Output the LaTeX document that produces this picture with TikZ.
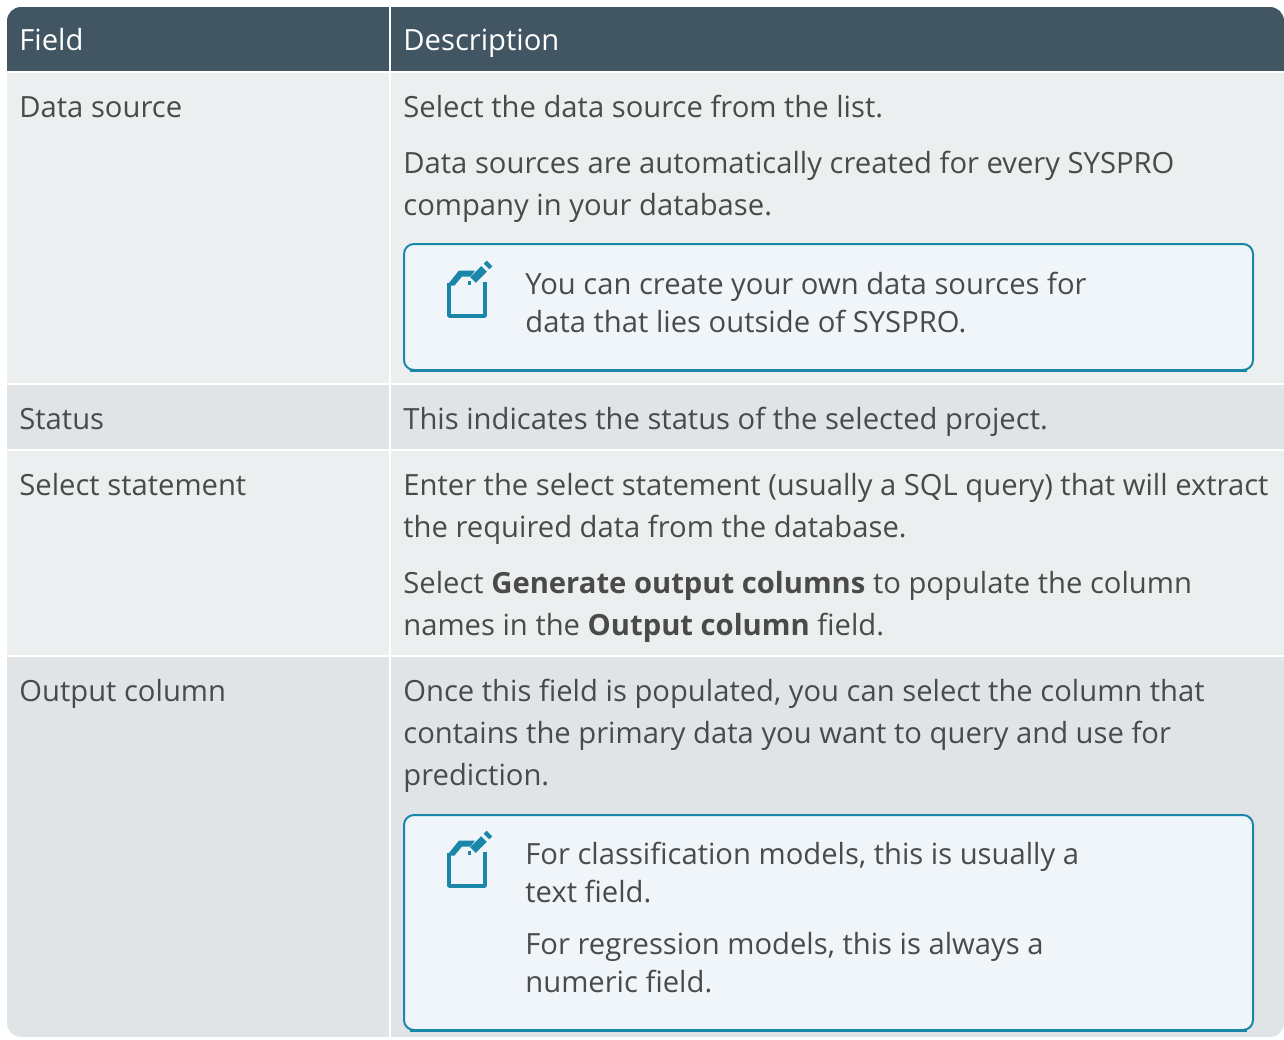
\documentclass[tikz,border=0pt]{standalone}
\usepackage{fontspec}
\setmainfont{Open Sans}
\usepackage{xcolor}
\usepackage{tikz}
\usetikzlibrary{calc}
\definecolor{head}{HTML}{425563}
\definecolor{rowa}{HTML}{ECEFF0}
\definecolor{rowb}{HTML}{E0E4E7}
\definecolor{body}{HTML}{4A4A4A}
\definecolor{noteline}{HTML}{1A87A8}
\definecolor{notebg}{HTML}{F0F5F9}
\tikzset{
  note/.style={draw=noteline, line width=1pt, fill=notebg, rounded corners=5pt},
  txt/.style={anchor=base west, inner sep=0pt, text=body, font=\fontsize{14.6}{21}\selectfont},
  htxt/.style={txt, text=white},
  icon/.style={draw=noteline, line width=1.8pt}
}
\newcommand{\NoteIcon}[1]{%
  \begin{scope}[shift={(#1)}]
    \draw[icon, line join=round] (3,20) -- (3,53) -- (39,53) -- (39,19);
    \fill[noteline] (1,22.5) -- (13,7.5) -- (29,7.5) -- (24.5,13.5) -- (16,13.5) -- (8.5,22.5) -- cycle;
    \fill[noteline] (21.5,18) rectangle (25,21.5);
    \draw[noteline, line width=4pt] (27,17) -- (38,6);
    \draw[noteline, line width=4pt] (40.5,3.5) -- (43.5,0.5);
  \end{scope}
}

\begin{document}
\begin{tikzpicture}[x=0.5pt,y=-0.5pt]
  \useasboundingbox (0,0) rectangle (1284,1039);

  \begin{scope}
    \clip[rounded corners=7pt] (7,7) rectangle (1284,1037);
    \foreach \ya/\yb/\c in {7/71/head, 73/383/rowa, 385/449/rowb, 451/655/rowa, 657/1037/rowb}
      \fill[\c] (7,\ya) rectangle (1284,\yb);
    \draw[white, line width=1pt] (390,7) -- (390,1037);
  \end{scope}

  \node[htxt] (hfield) at (19,50) {Field};
  \node[htxt] (hdesc) at (403,50) {Description};

  \node[txt] (fsrc) at (19,117) {Data source};
  \node[txt] (dsrc1) at (403,117) {Select the data source from the list.};
  \node[txt] (dsrc2) at (403,173) {Data sources are automatically created for every SYSPRO};
  \node[txt] (dsrc3) at (403,215) {company in your database.};
  \draw[noteline, line width=1pt] (410,371) -- (1247,371);
  \draw[note] (404,244) rectangle (1253,370);
  \NoteIcon{446,263}
  \node[txt] (nsrc1) at (525,294) {You can create your own data sources for};
  \node[txt] (nsrc2) at (525,332) {data that lies outside of SYSPRO.};

  \node[txt] (fstat) at (19,429) {Status};
  \node[txt] (dstat) at (403,429) {This indicates the status of the selected project.};

  \node[txt] (fsel) at (19,495) {Select statement};
  \node[txt] (dsel1) at (403,495) {Enter the select statement (usually a SQL query) that will extract};
  \node[txt] (dsel2) at (403,537) {the required data from the database.};
  \node[txt] (dsel3) at (403,593) {Select \textbf{Generate output columns} to populate the column};
  \node[txt] (dsel4) at (403,635) {names in the \textbf{Output column} field.};

  \node[txt] (fout) at (19,701) {Output column};
  \node[txt] (dout1) at (403,701) {Once this field is populated, you can select the column that};
  \node[txt] (dout2) at (403,743) {contains the primary data you want to query and use for};
  \node[txt] (dout3) at (403,785) {prediction.};
  \draw[noteline, line width=1pt] (410,1031) -- (1247,1031);
  \draw[note] (404,815) rectangle (1253,1030);
  \NoteIcon{446,833}
  \node[txt] (nout1) at (525,864) {For classification models, this is usually a};
  \node[txt] (nout2) at (525,902) {text field.};
  \node[txt] (nout3) at (525,954) {For regression models, this is always a};
  \node[txt] (nout4) at (525,992) {numeric field.};
\end{tikzpicture}
\end{document}
